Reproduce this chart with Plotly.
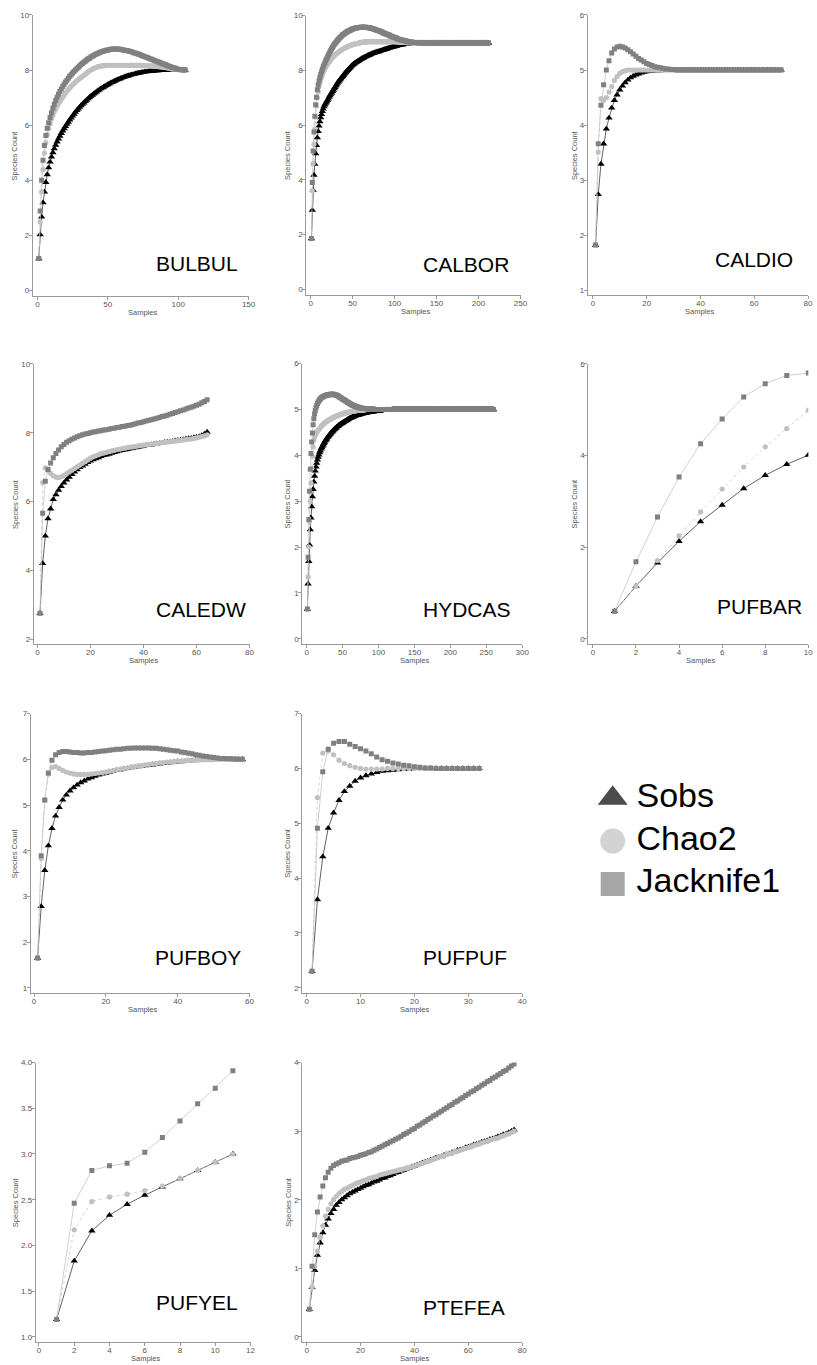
import plotly.graph_objects as go

W, H = 817, 1365
FONT = "Liberation Sans, Arial, sans-serif"

# ---------------- data (species count vs samples) ----------------
bulbul_sobs = [1.15, 2.02, 2.66, 3.18, 3.57, 3.92, 4.20, 4.45, 4.66, 4.84,
    5.00, 5.14, 5.27, 5.39, 5.50, 5.60, 5.70, 5.79, 5.87, 5.95,
    6.03, 6.11, 6.19, 6.26, 6.33, 6.40, 6.47, 6.53, 6.59, 6.65,
    6.71, 6.76, 6.81, 6.86, 6.91, 6.96, 7.01, 7.05, 7.09, 7.13,
    7.17, 7.21, 7.25, 7.28, 7.32, 7.35, 7.38, 7.41, 7.44, 7.47,
    7.50, 7.53, 7.55, 7.58, 7.60, 7.63, 7.65, 7.67, 7.69, 7.71,
    7.73, 7.75, 7.77, 7.78, 7.80, 7.81, 7.83, 7.84, 7.85, 7.87,
    7.88, 7.89, 7.90, 7.91, 7.92, 7.93, 7.94, 7.94, 7.95, 7.96,
    7.96, 7.97, 7.97, 7.98, 7.98, 7.98, 7.99, 7.99, 7.99, 7.99,
    8.0, 8.0, 8.0, 8.0, 8.0, 8.0, 8.0, 8.0, 8.0, 8.0,
    8.0, 8.0, 8.0, 8.0, 8.0]
bulbul_chao2 = [1.15, 2.48, 3.57, 4.38, 4.98, 5.36, 5.65, 5.88, 6.06, 6.22,
    6.36, 6.48, 6.58, 6.68, 6.77, 6.86, 6.94, 7.02, 7.09, 7.16,
    7.23, 7.29, 7.35, 7.41, 7.46, 7.51, 7.56, 7.61, 7.65, 7.69,
    7.73, 7.77, 7.81, 7.85, 7.89, 7.93, 7.97, 8.00, 8.03, 8.06,
    8.08, 8.10, 8.12, 8.13, 8.14, 8.15, 8.16, 8.16, 8.17, 8.17,
    8.17, 8.17, 8.17, 8.17, 8.17, 8.17, 8.17, 8.17, 8.17, 8.17,
    8.17, 8.17, 8.17, 8.17, 8.17, 8.17, 8.17, 8.17, 8.17, 8.17,
    8.17, 8.17, 8.17, 8.16, 8.16, 8.16, 8.16, 8.16, 8.15, 8.15,
    8.15, 8.14, 8.14, 8.13, 8.13, 8.12, 8.12, 8.11, 8.10, 8.10,
    8.09, 8.08, 8.07, 8.06, 8.05, 8.04, 8.04, 8.03, 8.02, 8.02,
    8.01, 8.01, 8.0, 8.0, 8.0]
bulbul_jack1 = [1.15, 2.88, 3.99, 4.72, 5.26, 5.62, 5.88, 6.08, 6.27, 6.45,
    6.61, 6.76, 6.89, 7.01, 7.12, 7.22, 7.31, 7.40, 7.48, 7.56,
    7.63, 7.70, 7.77, 7.83, 7.89, 7.95, 8.00, 8.05, 8.10, 8.15,
    8.20, 8.24, 8.28, 8.32, 8.36, 8.40, 8.43, 8.47, 8.50, 8.53,
    8.56, 8.58, 8.61, 8.63, 8.65, 8.67, 8.69, 8.70, 8.72, 8.73,
    8.74, 8.75, 8.75, 8.76, 8.76, 8.76, 8.76, 8.75, 8.75, 8.74,
    8.73, 8.72, 8.71, 8.70, 8.69, 8.67, 8.66, 8.64, 8.62, 8.61,
    8.59, 8.57, 8.55, 8.53, 8.51, 8.49, 8.47, 8.45, 8.43, 8.41,
    8.39, 8.37, 8.35, 8.33, 8.31, 8.29, 8.27, 8.25, 8.23, 8.21,
    8.19, 8.17, 8.15, 8.13, 8.11, 8.09, 8.08, 8.06, 8.04, 8.03,
    8.02, 8.01, 8.01, 8.0, 8.0]

calbor_sobs = [1.85, 2.89, 3.62, 4.17, 4.57, 4.96, 5.26, 5.54, 5.77, 5.97,
    6.13, 6.27, 6.39, 6.50, 6.59, 6.67, 6.74, 6.80, 6.85, 6.90,
    6.96, 7.02, 7.08, 7.13, 7.18, 7.23, 7.28, 7.33, 7.38, 7.43,
    7.48, 7.53, 7.58, 7.62, 7.66, 7.70, 7.74, 7.78, 7.82, 7.86,
    7.90, 7.93, 7.97, 8.00, 8.04, 8.07, 8.10, 8.14, 8.17, 8.20,
    8.22, 8.25, 8.27, 8.29, 8.31, 8.33, 8.35, 8.37, 8.39, 8.41,
    8.43, 8.44, 8.46, 8.48, 8.49, 8.51, 8.52, 8.54, 8.55, 8.57,
    8.58, 8.59, 8.61, 8.62, 8.63, 8.64, 8.65, 8.66, 8.67, 8.68,
    8.69, 8.70, 8.71, 8.72, 8.73, 8.74, 8.75, 8.76, 8.77, 8.78,
    8.79, 8.80, 8.81, 8.82, 8.83, 8.84, 8.85, 8.86, 8.87, 8.87,
    8.88, 8.89, 8.90, 8.91, 8.91, 8.92, 8.93, 8.93, 8.94, 8.94,
    8.95, 8.95, 8.96, 8.96, 8.97, 8.97, 8.97, 8.98, 8.98, 8.98,
    8.99, 8.99, 8.99, 8.99, 8.99, 9.0, 9.0, 9.0, 9.0, 9.0,
    9.0, 9.0, 9.0, 9.0, 9.0, 9.0, 9.0, 9.0, 9.0, 9.0,
    9.0, 9.0, 9.0, 9.0, 9.0, 9.0, 9.0, 9.0, 9.0, 9.0,
    9.0, 9.0, 9.0, 9.0, 9.0, 9.0, 9.0, 9.0, 9.0, 9.0,
    9.0, 9.0, 9.0, 9.0, 9.0, 9.0, 9.0, 9.0, 9.0, 9.0,
    9.0, 9.0, 9.0, 9.0, 9.0, 9.0, 9.0, 9.0, 9.0, 9.0,
    9.0, 9.0, 9.0, 9.0, 9.0, 9.0, 9.0, 9.0, 9.0, 9.0,
    9.0, 9.0, 9.0, 9.0, 9.0, 9.0, 9.0, 9.0, 9.0, 9.0,
    9.0, 9.0, 9.0, 9.0, 9.0, 9.0, 9.0, 9.0, 9.0, 9.0,
    9.0, 9.0]
calbor_chao2 = [1.85, 3.60, 4.60, 5.30, 5.85, 6.30, 6.70, 7.00, 7.22, 7.40,
    7.54, 7.66, 7.76, 7.85, 7.93, 8.00, 8.06, 8.12, 8.17, 8.22,
    8.27, 8.31, 8.35, 8.39, 8.43, 8.47, 8.50, 8.53, 8.56, 8.59,
    8.62, 8.64, 8.67, 8.69, 8.71, 8.73, 8.75, 8.77, 8.79, 8.81,
    8.82, 8.84, 8.85, 8.87, 8.88, 8.89, 8.90, 8.92, 8.93, 8.94,
    8.95, 8.96, 8.97, 8.97, 8.98, 8.99, 9.0, 9.0, 9.01, 9.02,
    9.02, 9.03, 9.03, 9.03, 9.04, 9.04, 9.04, 9.05, 9.05, 9.05,
    9.05, 9.05, 9.05, 9.05, 9.05, 9.05, 9.05, 9.05, 9.05, 9.05,
    9.05, 9.05, 9.05, 9.05, 9.05, 9.05, 9.05, 9.05, 9.05, 9.05,
    9.05, 9.05, 9.05, 9.05, 9.05, 9.05, 9.05, 9.05, 9.05, 9.05,
    9.05, 9.05, 9.04, 9.04, 9.04, 9.04, 9.03, 9.03, 9.03, 9.03,
    9.02, 9.02, 9.02, 9.02, 9.01, 9.01, 9.01, 9.01, 9.01, 9.01,
    9.0, 9.0, 9.0, 9.0, 9.0, 9.0, 9.0, 9.0, 9.0, 9.0,
    9.0, 9.0, 9.0, 9.0, 9.0, 9.0, 9.0, 9.0, 9.0, 9.0,
    9.0, 9.0, 9.0, 9.0, 9.0, 9.0, 9.0, 9.0, 9.0, 9.0,
    9.0, 9.0, 9.0, 9.0, 9.0, 9.0, 9.0, 9.0, 9.0, 9.0,
    9.0, 9.0, 9.0, 9.0, 9.0, 9.0, 9.0, 9.0, 9.0, 9.0,
    9.0, 9.0, 9.0, 9.0, 9.0, 9.0, 9.0, 9.0, 9.0, 9.0,
    9.0, 9.0, 9.0, 9.0, 9.0, 9.0, 9.0, 9.0, 9.0, 9.0,
    9.0, 9.0, 9.0, 9.0, 9.0, 9.0, 9.0, 9.0, 9.0, 9.0,
    9.0, 9.0, 9.0, 9.0, 9.0, 9.0, 9.0, 9.0, 9.0, 9.0,
    9.0, 9.0]
calbor_jack1 = [1.85, 3.90, 5.05, 5.75, 6.32, 6.74, 7.02, 7.29, 7.47, 7.62,
    7.74, 7.85, 7.95, 8.04, 8.13, 8.21, 8.28, 8.35, 8.42, 8.48,
    8.55, 8.61, 8.67, 8.73, 8.79, 8.84, 8.89, 8.94, 8.98, 9.02,
    9.06, 9.10, 9.13, 9.17, 9.20, 9.23, 9.26, 9.29, 9.31, 9.34,
    9.36, 9.38, 9.40, 9.42, 9.44, 9.45, 9.47, 9.48, 9.50, 9.51,
    9.52, 9.53, 9.54, 9.55, 9.56, 9.56, 9.57, 9.57, 9.58, 9.58,
    9.58, 9.58, 9.58, 9.58, 9.58, 9.58, 9.57, 9.57, 9.56, 9.56,
    9.55, 9.54, 9.53, 9.52, 9.51, 9.50, 9.49, 9.48, 9.47, 9.46,
    9.45, 9.44, 9.42, 9.41, 9.40, 9.38, 9.37, 9.36, 9.34, 9.33,
    9.32, 9.30, 9.29, 9.28, 9.26, 9.25, 9.24, 9.22, 9.21, 9.20,
    9.19, 9.18, 9.16, 9.15, 9.14, 9.13, 9.12, 9.11, 9.10, 9.10,
    9.09, 9.08, 9.07, 9.07, 9.06, 9.05, 9.05, 9.04, 9.04, 9.03,
    9.03, 9.03, 9.02, 9.02, 9.02, 9.02, 9.01, 9.01, 9.01, 9.01,
    9.01, 9.01, 9.0, 9.0, 9.0, 9.0, 9.0, 9.0, 9.0, 9.0,
    9.0, 9.0, 9.0, 9.0, 9.0, 9.0, 9.0, 9.0, 9.0, 9.0,
    9.0, 9.0, 9.0, 9.0, 9.0, 9.0, 9.0, 9.0, 9.0, 9.0,
    9.0, 9.0, 9.0, 9.0, 9.0, 9.0, 9.0, 9.0, 9.0, 9.0,
    9.0, 9.0, 9.0, 9.0, 9.0, 9.0, 9.0, 9.0, 9.0, 9.0,
    9.0, 9.0, 9.0, 9.0, 9.0, 9.0, 9.0, 9.0, 9.0, 9.0,
    9.0, 9.0, 9.0, 9.0, 9.0, 9.0, 9.0, 9.0, 9.0, 9.0,
    9.0, 9.0, 9.0, 9.0, 9.0, 9.0, 9.0, 9.0, 9.0, 9.0,
    9.0, 9.0]

caldio_sobs = [1.82, 2.74, 3.29, 3.66, 3.93, 4.13, 4.31, 4.45, 4.55, 4.64,
    4.71, 4.77, 4.82, 4.86, 4.89, 4.91, 4.93, 4.95, 4.96, 4.97,
    4.98, 4.98, 4.99, 4.99, 4.99, 5.0, 5.0, 5.0, 5.0, 5.0,
    5.0, 5.0, 5.0, 5.0, 5.0, 5.0, 5.0, 5.0, 5.0, 5.0,
    5.0, 5.0, 5.0, 5.0, 5.0, 5.0, 5.0, 5.0, 5.0, 5.0,
    5.0, 5.0, 5.0, 5.0, 5.0, 5.0, 5.0, 5.0, 5.0, 5.0,
    5.0, 5.0, 5.0, 5.0, 5.0, 5.0, 5.0, 5.0, 5.0, 5.0]
caldio_chao2 = [1.82, 3.51, 4.48, 4.45, 4.50, 4.60, 4.70, 4.81, 4.88, 4.94,
    4.97, 4.99, 5.0, 5.0, 5.0, 5.0, 5.0, 5.0, 5.0, 5.0,
    5.0, 5.0, 5.0, 5.0, 5.0, 5.0, 5.0, 5.0, 5.0, 5.0,
    5.0, 5.0, 5.0, 5.0, 5.0, 5.0, 5.0, 5.0, 5.0, 5.0,
    5.0, 5.0, 5.0, 5.0, 5.0, 5.0, 5.0, 5.0, 5.0, 5.0,
    5.0, 5.0, 5.0, 5.0, 5.0, 5.0, 5.0, 5.0, 5.0, 5.0,
    5.0, 5.0, 5.0, 5.0, 5.0, 5.0, 5.0, 5.0, 5.0, 5.0]
caldio_jack1 = [1.82, 3.66, 4.36, 4.73, 5.00, 5.17, 5.31, 5.38, 5.42, 5.43,
    5.42, 5.40, 5.37, 5.33, 5.29, 5.25, 5.21, 5.18, 5.15, 5.12,
    5.10, 5.08, 5.06, 5.05, 5.04, 5.03, 5.02, 5.02, 5.01, 5.01,
    5.0, 5.0, 5.0, 5.0, 5.0, 5.0, 5.0, 5.0, 5.0, 5.0,
    5.0, 5.0, 5.0, 5.0, 5.0, 5.0, 5.0, 5.0, 5.0, 5.0,
    5.0, 5.0, 5.0, 5.0, 5.0, 5.0, 5.0, 5.0, 5.0, 5.0,
    5.0, 5.0, 5.0, 5.0, 5.0, 5.0, 5.0, 5.0, 5.0, 5.0]

caledw_sobs = [2.75, 4.20, 5.00, 5.50, 5.79, 6.06, 6.20, 6.33, 6.44, 6.54,
    6.63, 6.71, 6.79, 6.86, 6.93, 6.99, 7.04, 7.09, 7.14, 7.18,
    7.22, 7.25, 7.28, 7.31, 7.34, 7.36, 7.38, 7.41, 7.43, 7.45,
    7.47, 7.49, 7.50, 7.52, 7.54, 7.55, 7.57, 7.58, 7.60, 7.61,
    7.63, 7.64, 7.65, 7.67, 7.68, 7.69, 7.70, 7.72, 7.73, 7.74,
    7.75, 7.77, 7.78, 7.79, 7.80, 7.82, 7.83, 7.84, 7.86, 7.87,
    7.89, 7.92, 7.96, 8.02]
caledw_chao2 = [2.75, 6.55, 6.98, 6.90, 6.82, 6.75, 6.71, 6.70, 6.72, 6.76,
    6.81, 6.86, 6.91, 6.96, 7.01, 7.06, 7.11, 7.16, 7.21, 7.26,
    7.30, 7.33, 7.36, 7.39, 7.41, 7.43, 7.45, 7.47, 7.49, 7.51,
    7.52, 7.54, 7.55, 7.57, 7.58, 7.59, 7.60, 7.62, 7.63, 7.64,
    7.65, 7.66, 7.67, 7.68, 7.69, 7.70, 7.71, 7.72, 7.73, 7.74,
    7.75, 7.76, 7.77, 7.78, 7.79, 7.80, 7.81, 7.82, 7.84, 7.85,
    7.87, 7.89, 7.91, 7.94]
caledw_jack1 = [2.75, 5.66, 6.59, 6.93, 7.12, 7.27, 7.40, 7.50, 7.59, 7.66,
    7.72, 7.77, 7.81, 7.85, 7.88, 7.91, 7.94, 7.96, 7.98, 8.00,
    8.02, 8.03, 8.05, 8.06, 8.08, 8.09, 8.10, 8.12, 8.13, 8.15,
    8.16, 8.18, 8.19, 8.21, 8.22, 8.24, 8.26, 8.28, 8.30, 8.32,
    8.34, 8.36, 8.38, 8.40, 8.42, 8.44, 8.47, 8.49, 8.51, 8.54,
    8.56, 8.59, 8.61, 8.64, 8.66, 8.69, 8.72, 8.74, 8.77, 8.80,
    8.83, 8.87, 8.91, 8.96]

hydcas_sobs = [0.65, 1.20, 1.69, 2.05, 2.38, 2.64, 2.88, 3.10, 3.26, 3.42,
    3.55, 3.66, 3.75, 3.83, 3.90, 3.96, 4.01, 4.06, 4.10, 4.14,
    4.17, 4.20, 4.23, 4.26, 4.29, 4.32, 4.34, 4.36, 4.39, 4.41,
    4.43, 4.45, 4.47, 4.49, 4.51, 4.52, 4.54, 4.56, 4.57, 4.59,
    4.60, 4.62, 4.63, 4.64, 4.66, 4.67, 4.68, 4.69, 4.70, 4.71,
    4.72, 4.73, 4.74, 4.75, 4.76, 4.77, 4.78, 4.79, 4.80, 4.81,
    4.82, 4.82, 4.83, 4.84, 4.84, 4.85, 4.86, 4.86, 4.87, 4.87,
    4.88, 4.88, 4.89, 4.89, 4.90, 4.90, 4.91, 4.91, 4.91, 4.92,
    4.92, 4.92, 4.93, 4.93, 4.93, 4.94, 4.94, 4.94, 4.94, 4.95,
    4.95, 4.95, 4.95, 4.96, 4.96, 4.96, 4.96, 4.96, 4.97, 4.97,
    4.97, 4.97, 4.97, 4.98, 4.98, 4.98, 4.98, 4.98, 4.98, 4.99,
    4.99, 4.99, 4.99, 4.99, 4.99, 4.99, 4.99, 4.99, 5.0, 5.0,
    5.0, 5.0, 5.0, 5.0, 5.0, 5.0, 5.0, 5.0, 5.0, 5.0,
    5.0, 5.0, 5.0, 5.0, 5.0, 5.0, 5.0, 5.0, 5.0, 5.0,
    5.0, 5.0, 5.0, 5.0, 5.0, 5.0, 5.0, 5.0, 5.0, 5.0,
    5.0, 5.0, 5.0, 5.0, 5.0, 5.0, 5.0, 5.0, 5.0, 5.0,
    5.0, 5.0, 5.0, 5.0, 5.0, 5.0, 5.0, 5.0, 5.0, 5.0,
    5.0, 5.0, 5.0, 5.0, 5.0, 5.0, 5.0, 5.0, 5.0, 5.0,
    5.0, 5.0, 5.0, 5.0, 5.0, 5.0, 5.0, 5.0, 5.0, 5.0,
    5.0, 5.0, 5.0, 5.0, 5.0, 5.0, 5.0, 5.0, 5.0, 5.0,
    5.0, 5.0, 5.0, 5.0, 5.0, 5.0, 5.0, 5.0, 5.0, 5.0,
    5.0, 5.0, 5.0, 5.0, 5.0, 5.0, 5.0, 5.0, 5.0, 5.0,
    5.0, 5.0, 5.0, 5.0, 5.0, 5.0, 5.0, 5.0, 5.0, 5.0,
    5.0, 5.0, 5.0, 5.0, 5.0, 5.0, 5.0, 5.0, 5.0, 5.0,
    5.0, 5.0, 5.0, 5.0, 5.0, 5.0, 5.0, 5.0, 5.0, 5.0,
    5.0, 5.0, 5.0, 5.0, 5.0, 5.0, 5.0, 5.0, 5.0, 5.0]
hydcas_chao2 = [0.65, 1.35, 2.00, 2.55, 3.00, 3.40, 3.72, 3.98, 4.18, 4.33,
    4.40, 4.44, 4.47, 4.50, 4.53, 4.55, 4.57, 4.59, 4.61, 4.63,
    4.65, 4.66, 4.68, 4.69, 4.71, 4.72, 4.73, 4.74, 4.75, 4.76,
    4.77, 4.78, 4.79, 4.80, 4.81, 4.82, 4.82, 4.83, 4.84, 4.85,
    4.85, 4.86, 4.87, 4.87, 4.88, 4.89, 4.89, 4.90, 4.90, 4.91,
    4.91, 4.92, 4.92, 4.93, 4.93, 4.94, 4.94, 4.94, 4.95, 4.95,
    4.95, 4.96, 4.96, 4.96, 4.97, 4.97, 4.97, 4.97, 4.98, 4.98,
    4.98, 4.98, 4.98, 4.99, 4.99, 4.99, 4.99, 4.99, 4.99, 4.99,
    4.99, 5.0, 5.0, 5.0, 5.0, 5.0, 5.0, 5.0, 5.0, 5.0,
    5.0, 5.0, 5.0, 5.0, 5.0, 5.0, 5.0, 5.0, 5.0, 5.0,
    5.0, 5.0, 5.0, 5.0, 5.0, 5.0, 5.0, 5.0, 5.0, 5.0,
    5.0, 5.0, 5.0, 5.0, 5.0, 5.0, 5.0, 5.0, 5.0, 5.0,
    5.0, 5.0, 5.0, 5.0, 5.0, 5.0, 5.0, 5.0, 5.0, 5.0,
    5.0, 5.0, 5.0, 5.0, 5.0, 5.0, 5.0, 5.0, 5.0, 5.0,
    5.0, 5.0, 5.0, 5.0, 5.0, 5.0, 5.0, 5.0, 5.0, 5.0,
    5.0, 5.0, 5.0, 5.0, 5.0, 5.0, 5.0, 5.0, 5.0, 5.0,
    5.0, 5.0, 5.0, 5.0, 5.0, 5.0, 5.0, 5.0, 5.0, 5.0,
    5.0, 5.0, 5.0, 5.0, 5.0, 5.0, 5.0, 5.0, 5.0, 5.0,
    5.0, 5.0, 5.0, 5.0, 5.0, 5.0, 5.0, 5.0, 5.0, 5.0,
    5.0, 5.0, 5.0, 5.0, 5.0, 5.0, 5.0, 5.0, 5.0, 5.0,
    5.0, 5.0, 5.0, 5.0, 5.0, 5.0, 5.0, 5.0, 5.0, 5.0,
    5.0, 5.0, 5.0, 5.0, 5.0, 5.0, 5.0, 5.0, 5.0, 5.0,
    5.0, 5.0, 5.0, 5.0, 5.0, 5.0, 5.0, 5.0, 5.0, 5.0,
    5.0, 5.0, 5.0, 5.0, 5.0, 5.0, 5.0, 5.0, 5.0, 5.0,
    5.0, 5.0, 5.0, 5.0, 5.0, 5.0, 5.0, 5.0, 5.0, 5.0,
    5.0, 5.0, 5.0, 5.0, 5.0, 5.0, 5.0, 5.0, 5.0, 5.0]
hydcas_jack1 = [0.65, 1.78, 2.60, 3.22, 3.70, 4.04, 4.29, 4.49, 4.67, 4.80,
    4.90, 4.98, 5.04, 5.09, 5.13, 5.16, 5.19, 5.21, 5.23, 5.25,
    5.26, 5.27, 5.28, 5.29, 5.30, 5.30, 5.31, 5.31, 5.32, 5.32,
    5.32, 5.32, 5.33, 5.33, 5.33, 5.33, 5.33, 5.32, 5.32, 5.32,
    5.31, 5.31, 5.30, 5.29, 5.28, 5.27, 5.26, 5.25, 5.24, 5.23,
    5.22, 5.21, 5.20, 5.19, 5.18, 5.17, 5.16, 5.15, 5.14, 5.13,
    5.12, 5.11, 5.10, 5.10, 5.09, 5.08, 5.07, 5.07, 5.06, 5.06,
    5.05, 5.05, 5.04, 5.04, 5.04, 5.03, 5.03, 5.03, 5.02, 5.02,
    5.02, 5.02, 5.02, 5.01, 5.01, 5.01, 5.01, 5.01, 5.01, 5.01,
    5.01, 5.01, 5.01, 5.0, 5.0, 5.0, 5.0, 5.0, 5.0, 5.0,
    5.0, 5.0, 5.0, 5.0, 5.0, 5.0, 5.0, 5.0, 5.0, 5.0,
    5.0, 5.0, 5.0, 5.0, 5.0, 5.0, 5.0, 5.0, 5.0, 5.0,
    5.0, 5.0, 5.0, 5.0, 5.0, 5.0, 5.0, 5.0, 5.0, 5.0,
    5.0, 5.0, 5.0, 5.0, 5.0, 5.0, 5.0, 5.0, 5.0, 5.0,
    5.0, 5.0, 5.0, 5.0, 5.0, 5.0, 5.0, 5.0, 5.0, 5.0,
    5.0, 5.0, 5.0, 5.0, 5.0, 5.0, 5.0, 5.0, 5.0, 5.0,
    5.0, 5.0, 5.0, 5.0, 5.0, 5.0, 5.0, 5.0, 5.0, 5.0,
    5.0, 5.0, 5.0, 5.0, 5.0, 5.0, 5.0, 5.0, 5.0, 5.0,
    5.0, 5.0, 5.0, 5.0, 5.0, 5.0, 5.0, 5.0, 5.0, 5.0,
    5.0, 5.0, 5.0, 5.0, 5.0, 5.0, 5.0, 5.0, 5.0, 5.0,
    5.0, 5.0, 5.0, 5.0, 5.0, 5.0, 5.0, 5.0, 5.0, 5.0,
    5.0, 5.0, 5.0, 5.0, 5.0, 5.0, 5.0, 5.0, 5.0, 5.0,
    5.0, 5.0, 5.0, 5.0, 5.0, 5.0, 5.0, 5.0, 5.0, 5.0,
    5.0, 5.0, 5.0, 5.0, 5.0, 5.0, 5.0, 5.0, 5.0, 5.0,
    5.0, 5.0, 5.0, 5.0, 5.0, 5.0, 5.0, 5.0, 5.0, 5.0,
    5.0, 5.0, 5.0, 5.0, 5.0, 5.0, 5.0, 5.0, 5.0, 5.0]

pufbar_sobs = [0.60, 1.15, 1.66, 2.13, 2.56, 2.92, 3.28, 3.57, 3.81, 4.01]
pufbar_chao2 = [0.60, 1.15, 1.71, 2.25, 2.77, 3.27, 3.75, 4.19, 4.59, 4.99]
pufbar_jack1 = [0.60, 1.68, 2.66, 3.53, 4.26, 4.80, 5.28, 5.57, 5.75, 5.80]

pufboy_sobs = [1.65, 2.78, 3.57, 4.11, 4.49, 4.76, 4.95, 5.11, 5.22, 5.31,
    5.38, 5.44, 5.49, 5.53, 5.57, 5.60, 5.63, 5.66, 5.68, 5.70,
    5.72, 5.74, 5.76, 5.77, 5.79, 5.80, 5.82, 5.83, 5.84, 5.85,
    5.86, 5.87, 5.88, 5.89, 5.90, 5.91, 5.92, 5.93, 5.94, 5.95,
    5.95, 5.96, 5.97, 5.97, 5.98, 5.98, 5.99, 5.99, 5.99, 6.0,
    6.0, 6.0, 6.0, 6.0, 6.0, 6.0, 6.0, 6.0]
pufboy_chao2 = [1.65, 3.83, 5.10, 5.68, 5.82, 5.84, 5.80, 5.76, 5.72, 5.70,
    5.68, 5.67, 5.67, 5.67, 5.67, 5.68, 5.69, 5.70, 5.71, 5.72,
    5.74, 5.75, 5.77, 5.78, 5.80, 5.81, 5.83, 5.84, 5.85, 5.86,
    5.88, 5.89, 5.90, 5.91, 5.92, 5.93, 5.94, 5.94, 5.95, 5.96,
    5.96, 5.97, 5.97, 5.98, 5.98, 5.98, 5.99, 5.99, 5.99, 5.99,
    6.0, 6.0, 6.0, 6.0, 6.0, 6.0, 6.0, 6.0]
pufboy_jack1 = [1.65, 3.89, 5.11, 5.70, 5.98, 6.10, 6.15, 6.17, 6.17, 6.16,
    6.15, 6.15, 6.14, 6.14, 6.15, 6.15, 6.16, 6.17, 6.18, 6.19,
    6.20, 6.21, 6.22, 6.22, 6.23, 6.24, 6.24, 6.25, 6.25, 6.25,
    6.25, 6.25, 6.24, 6.24, 6.23, 6.22, 6.21, 6.20, 6.19, 6.18,
    6.16, 6.15, 6.13, 6.12, 6.10, 6.09, 6.07, 6.06, 6.05, 6.04,
    6.03, 6.02, 6.02, 6.01, 6.01, 6.0, 6.0, 6.0]

pufpuf_sobs = [2.30, 3.61, 4.39, 4.91, 5.19, 5.42, 5.58, 5.68, 5.77, 5.83,
    5.87, 5.90, 5.93, 5.95, 5.96, 5.97, 5.98, 5.99, 5.99, 6.0,
    6.0, 6.0, 6.0, 6.0, 6.0, 6.0, 6.0, 6.0, 6.0, 6.0, 6.0, 6.0]
pufpuf_chao2 = [2.30, 5.47, 6.28, 6.32, 6.25, 6.15, 6.09, 6.05, 6.02, 6.00,
    5.99, 5.99, 5.99, 5.99, 6.0, 6.0, 6.0, 6.0, 6.0, 6.0,
    6.0, 6.0, 6.0, 6.0, 6.0, 6.0, 6.0, 6.0, 6.0, 6.0, 6.0, 6.0]
pufpuf_jack1 = [2.30, 4.91, 5.94, 6.35, 6.46, 6.49, 6.49, 6.44, 6.40, 6.36,
    6.32, 6.27, 6.21, 6.16, 6.13, 6.10, 6.08, 6.06, 6.05, 6.03,
    6.02, 6.01, 6.01, 6.0, 6.0, 6.0, 6.0, 6.0, 6.0, 6.0, 6.0, 6.0]

pufyel_sobs = [1.19, 1.83, 2.16, 2.33, 2.45, 2.55, 2.64, 2.73, 2.82, 2.91, 3.00]
pufyel_chao2 = [1.19, 2.17, 2.48, 2.53, 2.56, 2.60, 2.65, 2.73, 2.82, 2.91, 3.00]
pufyel_jack1 = [1.19, 2.46, 2.82, 2.87, 2.90, 3.02, 3.18, 3.36, 3.55, 3.72, 3.91]

ptefea_sobs = [0.40, 0.72, 0.97, 1.19, 1.37, 1.52, 1.63, 1.72, 1.80, 1.86,
    1.92, 1.96, 2.00, 2.03, 2.06, 2.09, 2.11, 2.13, 2.15, 2.17,
    2.19, 2.21, 2.22, 2.24, 2.26, 2.27, 2.29, 2.31, 2.32, 2.34,
    2.35, 2.37, 2.39, 2.40, 2.42, 2.43, 2.45, 2.46, 2.48, 2.49,
    2.51, 2.52, 2.54, 2.55, 2.56, 2.58, 2.59, 2.61, 2.62, 2.63,
    2.65, 2.66, 2.67, 2.69, 2.70, 2.72, 2.73, 2.74, 2.76, 2.77,
    2.78, 2.80, 2.81, 2.82, 2.84, 2.85, 2.86, 2.88, 2.89, 2.90,
    2.92, 2.93, 2.95, 2.96, 2.98, 3.00, 3.02]
ptefea_chao2 = [0.40, 0.72, 1.03, 1.25, 1.45, 1.62, 1.76, 1.86, 1.94, 2.00,
    2.05, 2.09, 2.12, 2.15, 2.17, 2.19, 2.21, 2.23, 2.25, 2.26,
    2.28, 2.29, 2.31, 2.32, 2.33, 2.34, 2.36, 2.37, 2.38, 2.39,
    2.40, 2.41, 2.42, 2.43, 2.44, 2.45, 2.46, 2.47, 2.48, 2.49,
    2.51, 2.52, 2.53, 2.55, 2.56, 2.57, 2.59, 2.60, 2.62, 2.63,
    2.64, 2.66, 2.67, 2.68, 2.70, 2.71, 2.72, 2.74, 2.75, 2.76,
    2.77, 2.79, 2.80, 2.81, 2.83, 2.84, 2.85, 2.87, 2.88, 2.89,
    2.90, 2.92, 2.93, 2.95, 2.96, 2.98, 3.00]
ptefea_jack1 = [0.40, 1.03, 1.49, 1.82, 2.04, 2.20, 2.32, 2.40, 2.46, 2.50,
    2.52, 2.54, 2.56, 2.57, 2.58, 2.60, 2.61, 2.62, 2.63, 2.65,
    2.66, 2.67, 2.69, 2.70, 2.72, 2.74, 2.76, 2.78, 2.80, 2.82,
    2.84, 2.86, 2.88, 2.90, 2.92, 2.95, 2.97, 2.99, 3.02, 3.04,
    3.07, 3.09, 3.12, 3.14, 3.17, 3.19, 3.22, 3.24, 3.27, 3.29,
    3.32, 3.34, 3.37, 3.39, 3.42, 3.44, 3.47, 3.49, 3.52, 3.54,
    3.57, 3.59, 3.62, 3.64, 3.67, 3.69, 3.72, 3.74, 3.77, 3.79,
    3.82, 3.84, 3.87, 3.89, 3.92, 3.95, 3.98]

species = ["BULBUL", "CALBOR", "CALDIO", "CALEDW", "HYDCAS",
           "PUFBAR", "PUFBOY", "PUFPUF", "PUFYEL", "PTEFEA"]
series_names = ["Sobs", "Chao2", "Jacknife1"]

series = {
    "BULBUL": (bulbul_sobs, bulbul_chao2, bulbul_jack1),
    "CALBOR": (calbor_sobs, calbor_chao2, calbor_jack1),
    "CALDIO": (caldio_sobs, caldio_chao2, caldio_jack1),
    "CALEDW": (caledw_sobs, caledw_chao2, caledw_jack1),
    "HYDCAS": (hydcas_sobs, hydcas_chao2, hydcas_jack1),
    "PUFBAR": (pufbar_sobs, pufbar_chao2, pufbar_jack1),
    "PUFBOY": (pufboy_sobs, pufboy_chao2, pufboy_jack1),
    "PUFPUF": (pufpuf_sobs, pufpuf_chao2, pufpuf_jack1),
    "PUFYEL": (pufyel_sobs, pufyel_chao2, pufyel_jack1),
    "PTEFEA": (ptefea_sobs, ptefea_chao2, ptefea_jack1),
}

x_ticks = {
    "BULBUL": [0, 50, 100, 150], "CALBOR": [0, 50, 100, 150, 200, 250],
    "CALDIO": [0, 20, 40, 60, 80], "CALEDW": [0, 20, 40, 60, 80],
    "HYDCAS": [0, 50, 100, 150, 200, 250, 300], "PUFBAR": [0, 2, 4, 6, 8, 10],
    "PUFBOY": [0, 20, 40, 60], "PUFPUF": [0, 10, 20, 30, 40],
    "PUFYEL": [0, 2, 4, 6, 8, 10, 12], "PTEFEA": [0, 20, 40, 60, 80],
}
y_ticks = {
    "BULBUL": [0, 2, 4, 6, 8, 10], "CALBOR": [0, 2, 4, 6, 8, 10],
    "CALDIO": [1, 2, 3, 4, 5, 6], "CALEDW": [2, 4, 6, 8, 10],
    "HYDCAS": [0, 1, 2, 3, 4, 5, 6], "PUFBAR": [0, 2, 4, 6],
    "PUFBOY": [1, 2, 3, 4, 5, 6, 7], "PUFPUF": [2, 3, 4, 5, 6, 7],
    "PUFYEL": [1.0, 1.5, 2.0, 2.5, 3.0, 3.5, 4.0], "PTEFEA": [0, 1, 2, 3, 4],
}

# ---------------- layout geometry (page pixels) ----------------
# left axis line, x of first tick, x of last tick, y of top tick, y of first tick, x-axis line
geom = {
    "BULBUL": (33, 37.7, 250.7, 11, 287, 293),
    "CALBOR": (309, 313.3, 525, 11.7, 286, 292),
    "CALDIO": (593, 598, 815, 11, 287, 292),
    "CALEDW": (34, 37.7, 251.7, 361, 637, 642),
    "HYDCAS": (305, 309.3, 526.7, 360.7, 636.7, 642),
    "PUFBAR": (593.5, 598, 815.3, 361, 636.7, 642),
    "PUFBOY": (31, 34.3, 251.7, 711.7, 986.7, 992),
    "PUFPUF": (305, 309.3, 526.7, 711.7, 986.7, 992),
    "PUFYEL": (36, 39.3, 252.7, 1061.7, 1336.7, 1342),
    "PTEFEA": (305, 309.3, 526.7, 1061.7, 1336.7, 1342),
}
title_pos = {
    "BULBUL": (199, 260), "CALBOR": (470, 261), "CALDIO": (761, 256),
    "CALEDW": (203, 607), "HYDCAS": (471, 607), "PUFBAR": (766, 604),
    "PUFBOY": (200, 956), "PUFPUF": (469, 956), "PUFYEL": (199, 1302),
    "PTEFEA": (468, 1307),
}
ylab_off = {"BULBUL": 18, "CALBOR": 19, "CALDIO": 14, "CALEDW": 19, "HYDCAS": 15,
            "PUFBAR": 15, "PUFBOY": 17, "PUFPUF": 15, "PUFYEL": 21, "PTEFEA": 14}


def fx(p):
    return p / W


def fy(p):
    return 1 - p / H


styles = [
    dict(symbol="triangle-up", size=6.5, color="black", line=dict(color="#3a3a3a", width=0.8, dash="solid")),
    dict(symbol="circle", size=5.2, color="#c0c0c0", line=dict(color="#c8c8c8", width=0.8, dash="dot")),
    dict(symbol="square", size=5.0, color="#808080", line=dict(color="#c4c4c4", width=0.8, dash="solid")),
]

fig = go.Figure()
annotations = []
axis_font = dict(family=FONT, size=8, color="#555555")

for i, name in enumerate(species, start=1):
    sfx = "" if i == 1 else str(i)
    xa, ya = "x" + sfx, "y" + sfx
    vals = series[name]
    samples = list(range(1, len(vals[0]) + 1))
    for sname, yv, st in zip(series_names, vals, styles):
        fig.add_trace(go.Scatter(
            x=samples, y=yv, xaxis=xa, yaxis=ya, name=sname, mode="lines+markers",
            line=st["line"],
            marker=dict(symbol=st["symbol"], size=st["size"], color=st["color"], line=dict(width=0)),
            hoverinfo="skip", showlegend=False))

    L, X0, R, T, B0, B = geom[name]
    xt, yt = x_ticks[name], y_ticks[name]
    sx = (R - X0) / (xt[-1] - xt[0])
    sy = (B0 - T) / (yt[-1] - yt[0])
    xr = [xt[0] - (X0 - L) / sx, xt[-1]]
    yr = [yt[0] - (B - B0) / sy, yt[-1]]
    common = dict(showgrid=False, zeroline=False, showline=True, linecolor="#9a9a9a", linewidth=1,
                  ticks="outside", ticklen=3, tickcolor="#9a9a9a", tickwidth=1,
                  tickfont=axis_font, fixedrange=True, ticklabeloverflow="allow")
    fig.layout["xaxis" + sfx] = dict(domain=[fx(L), fx(R)], range=xr, tickvals=xt, anchor=ya,
                                     ticklabelstandoff=-3, **common)
    ydict = dict(domain=[fy(B), fy(T)], range=yr, tickvals=yt, anchor=xa,
                 ticklabelstandoff=-2, **common)
    if name == "PUFYEL":
        ydict["tickformat"] = ".1f"
    fig.layout["yaxis" + sfx] = ydict

    tx, ty = title_pos[name]
    annotations.append(dict(text=name, x=fx(tx), y=fy(ty), xref="paper", yref="paper",
                            xanchor="center", yanchor="middle", showarrow=False,
                            font=dict(family=FONT, size=21, color="black")))
    annotations.append(dict(text="Samples", x=fx((L + R) / 2 + 2), y=fy(B + 16),
                            xref="paper", yref="paper", xanchor="center", yanchor="middle",
                            showarrow=False, font=dict(family=FONT, size=7.5, color="#555555")))
    annotations.append(dict(text="Species Count", x=fx(L - ylab_off[name]), y=fy((T + B) / 2),
                            xref="paper", yref="paper", xanchor="center", yanchor="middle",
                            textangle=-90, showarrow=False,
                            font=dict(family=FONT, size=7.5, color="#555555")))

# ---------------- legend (drawn as its own small panel) ----------------
legend_symbols = ["triangle-up", "circle", "square"]
legend_colors = ["black", "#c0c0c0", "#808080"]
legend_sizes = [26, 25, 24]
fig.add_trace(go.Scatter(x=[21, 21, 21], y=series_names, xaxis="x11", yaxis="y11", mode="markers",
                         marker=dict(symbol=legend_symbols, color=legend_colors, size=legend_sizes,
                                     line=dict(width=0)),
                         hoverinfo="skip", showlegend=False))
fig.add_trace(go.Scatter(x=[45, 45, 45], y=series_names, xaxis="x11", yaxis="y11", mode="text",
                         text=series_names, textposition="middle right",
                         textfont=dict(family=FONT, size=34, color="black"),
                         hoverinfo="skip", showlegend=False))
fig.layout["xaxis11"] = dict(domain=[fx(597), 1.0], range=[0, 220], visible=False, anchor="y11",
                             fixedrange=True)
fig.layout["yaxis11"] = dict(domain=[fy(904), fy(775)], range=[2.5, -0.5], visible=False,
                             type="category", categoryarray=series_names, anchor="x11", fixedrange=True)

fig.update_layout(width=W, height=H, margin=dict(l=0, r=0, t=0, b=0),
                  paper_bgcolor="white", plot_bgcolor="white", showlegend=False,
                  hovermode=False, annotations=annotations)

fig.write_html("out.html", config={"displayModeBar": False, "staticPlot": True},
               post_script="document.body.style.margin='0';document.body.style.overflow='hidden';")
